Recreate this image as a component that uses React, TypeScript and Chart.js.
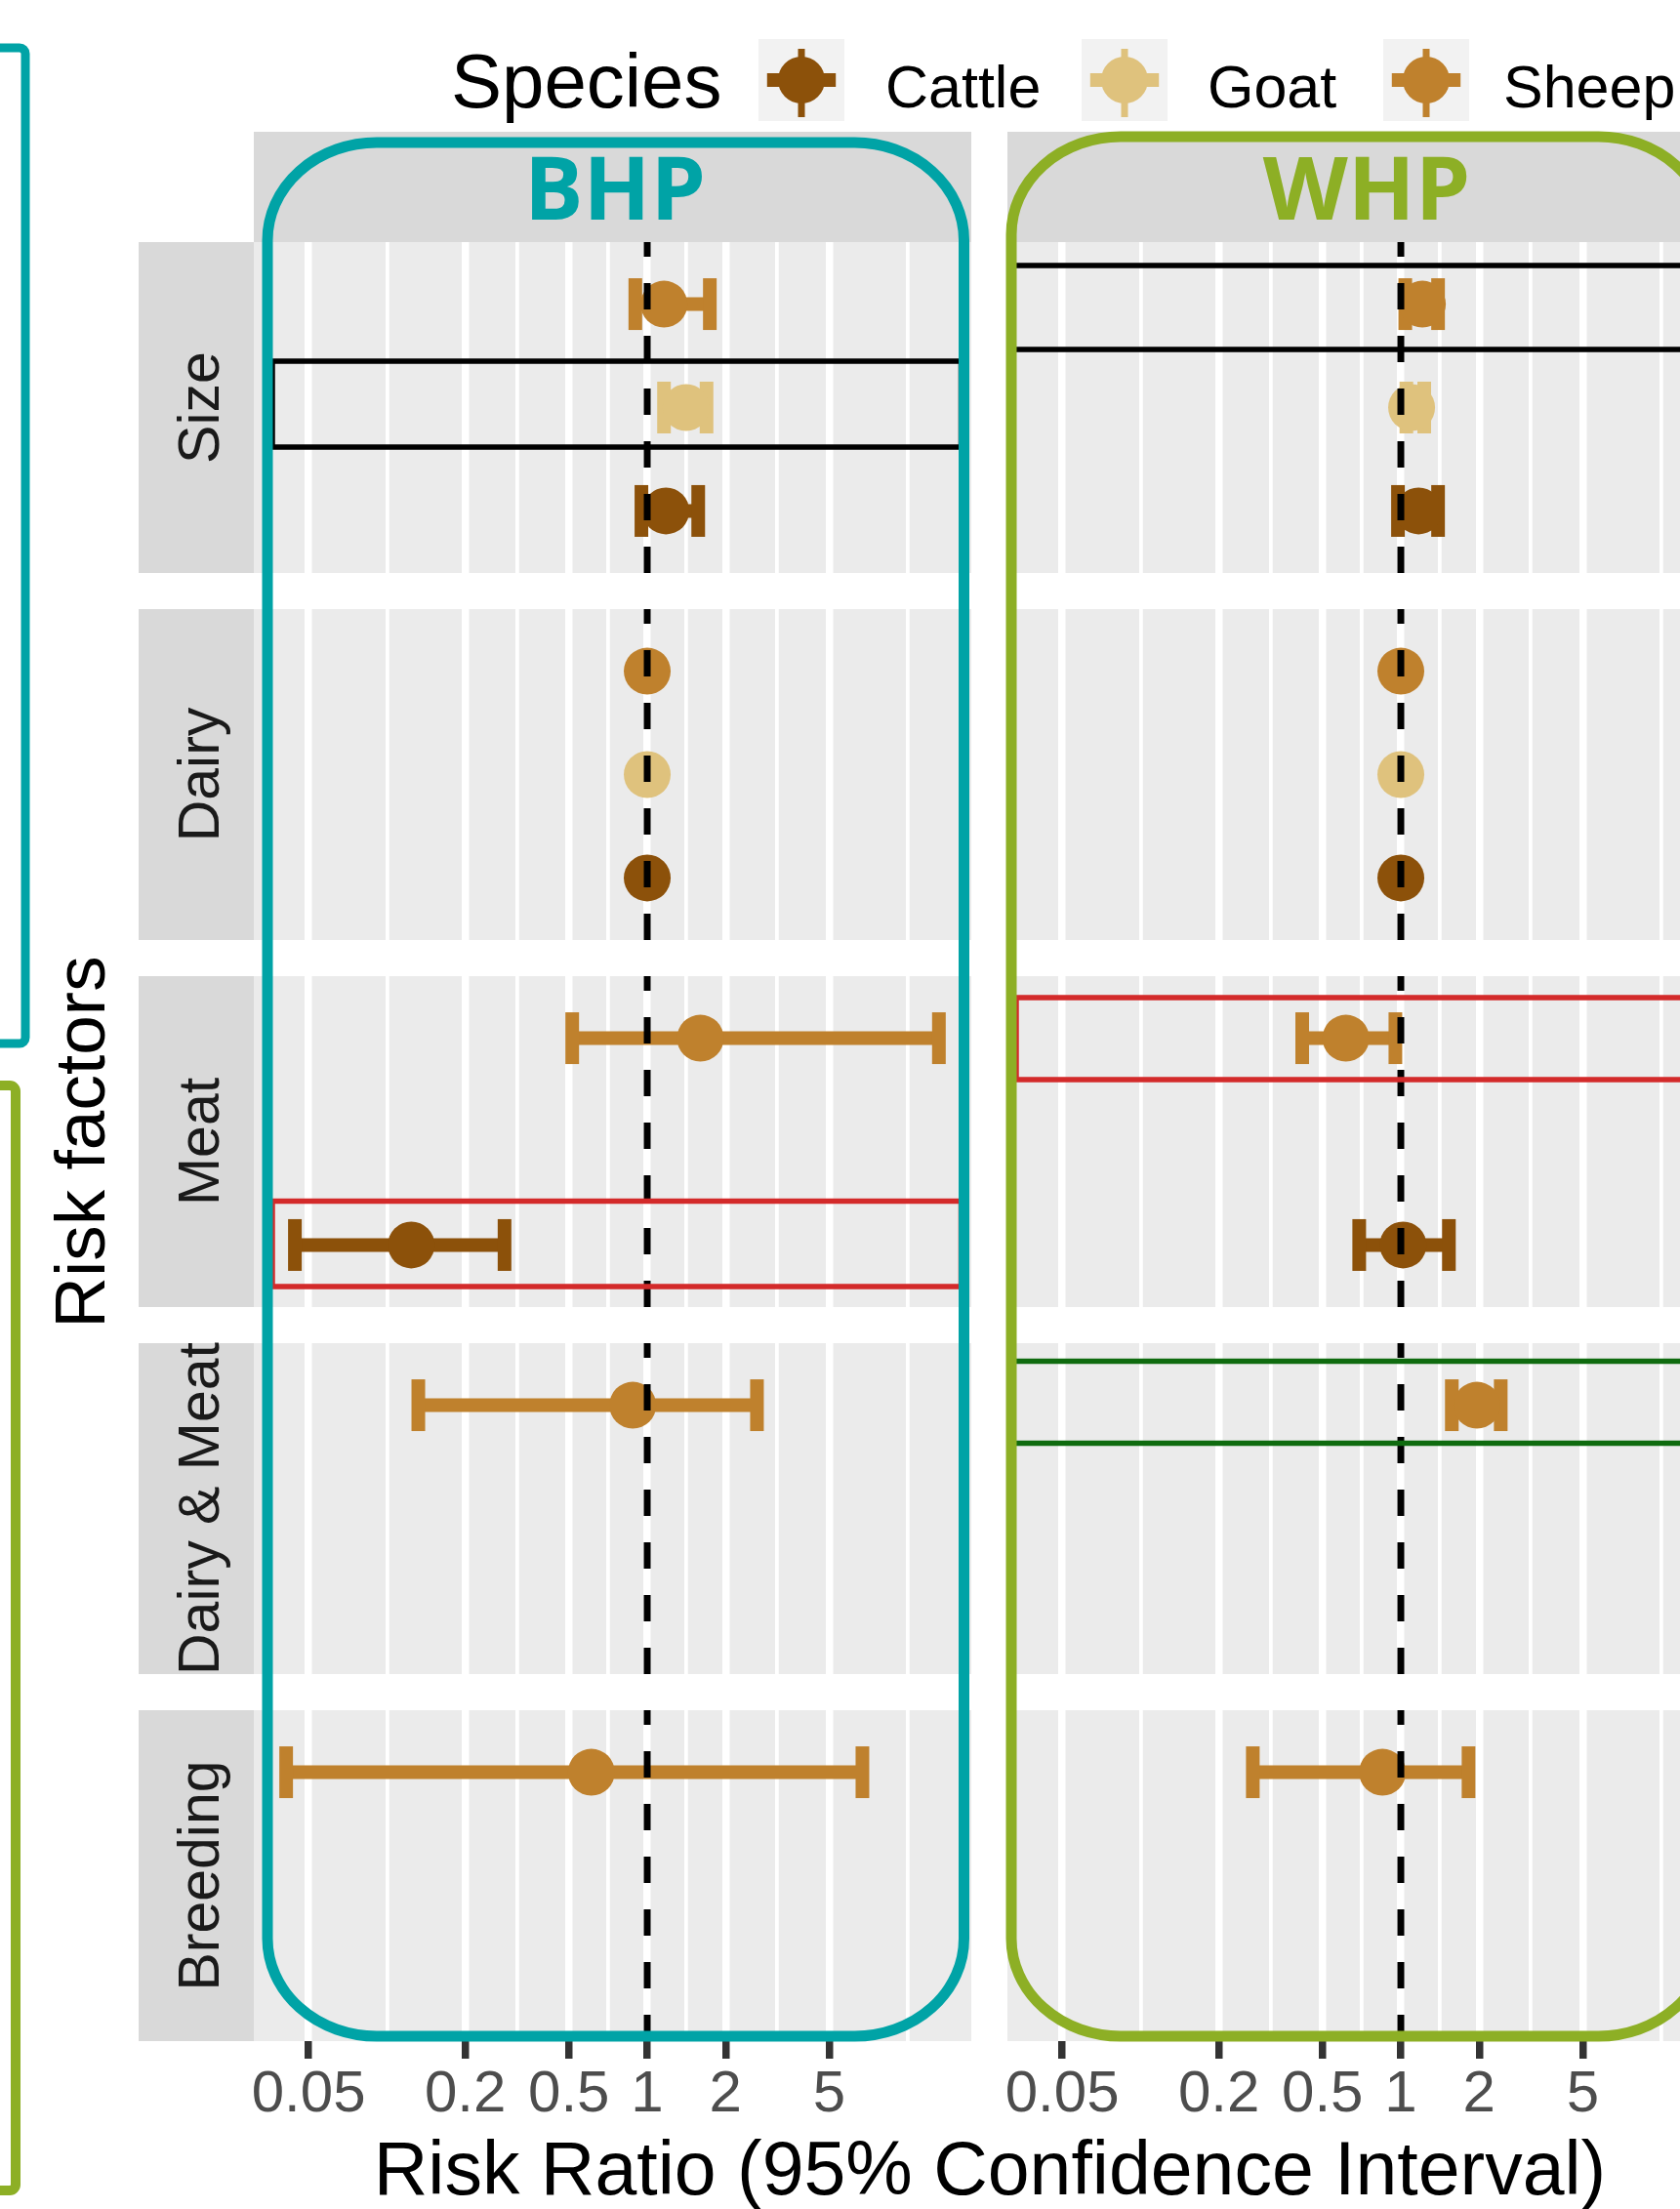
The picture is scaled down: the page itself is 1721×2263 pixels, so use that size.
import React, { useEffect, useRef } from 'react';
import { Chart, registerables } from 'chart.js';

Chart.register(...registerables);

// ---------------- data ----------------
const species = ['Cattle', 'Goat', 'Sheep'];
const speciesColors = ['#8C510A', '#DFC27D', '#BF812D'];
const riskFactors = ['Size', 'Dairy', 'Meat', 'Dairy & Meat', 'Breeding'];
const panels = ['BHP', 'WHP'];

const rowFactor = ['Size', 'Size', 'Size', 'Dairy', 'Dairy', 'Dairy', 'Meat', 'Meat', 'Dairy & Meat', 'Breeding'];
const rowSpecies = ['Sheep', 'Goat', 'Cattle', 'Sheep', 'Goat', 'Cattle', 'Sheep', 'Cattle', 'Sheep', 'Sheep'];

const bhpRR = [1.16, 1.41, 1.18, 1, 1, 1, 1.6, 0.124, 0.88, 0.61];
const bhpLow = [0.9, 1.16, 0.95, null, null, null, 0.515, 0.0443, 0.132, 0.041];
const bhpHigh = [1.74, 1.69, 1.57, null, null, null, 13.2, 0.283, 2.64, 6.71];

const whpRR = [1.21, 1.1, 1.17, 1, 1, 1, 0.615, 1.02, 1.96, 0.85];
const whpLow = [1.04, 1.05, 0.975, null, null, null, 0.418, 0.692, 1.57, 0.27];
const whpHigh = [1.39, 1.23, 1.39, null, null, null, 0.953, 1.53, 2.42, 1.82];

const tickValues = [0.05, 0.2, 0.5, 1, 2, 5];
const tickLabels = ['0.05', '0.2', '0.5', '1', '2', '5'];
const refValue = 1;
const xMin = 0.0308;
const xMax = 17.58;
const yMin = -0.6;
const yMax = 2.6;

// minor breaks: geometric midpoints between the breaks (ggplot rule)
const logT = tickValues.map((v) => Math.log10(v));
const stepT = logT[1] - logT[0];
const extT = [logT[0] - stepT, ...logT, logT[logT.length - 1] + stepT];
const minorValues = extT
  .slice(1)
  .map((v, i) => Math.pow(10, (v + extT[i]) / 2))
  .filter((v) => v > xMin && v < xMax);
const gridValues = [...minorValues, ...tickValues];

const panelRR = [bhpRR, whpRR];
const panelLow = [bhpLow, whpLow];
const panelHigh = [bhpHigh, whpHigh];

// ---------------- layout ----------------
const FONT = "'Liberation Sans', Arial, Helvetica, sans-serif";
const TEAL = '#00A3A6';
const OLIVE = '#8DAF25';
const PANEL_LEFT = [260, 1032];
const PANEL_W = 735;
const FACET_TOP0 = 248;
const FACET_STEP = 376;
const FACET_H = 339;
const PADX = 60;
const AXIS_H = 110;
const facetTops = riskFactors.map((_, k) => FACET_TOP0 + k * FACET_STEP);

const isMajor = (v: number) => tickValues.some((t) => Math.abs(t - v) < 1e-9);

const bgPlugin = {
  id: 'panelBg',
  beforeDraw(chart: any) {
    const { ctx, chartArea: a } = chart;
    ctx.save();
    ctx.fillStyle = '#EBEBEB';
    ctx.fillRect(a.left, a.top, a.right - a.left, a.bottom - a.top);
    ctx.restore();
  },
};

function Facet({ panel, factorIndex }: { panel: number; factorIndex: number }) {
  const ref = useRef<HTMLCanvasElement>(null);
  const isBottom = factorIndex === riskFactors.length - 1;

  useEffect(() => {
    const rr = panelRR[panel];
    const lo = panelLow[panel];
    const hi = panelHigh[panel];
    const factor = riskFactors[factorIndex];
    const idx = rowFactor.map((f, i) => (f === factor ? i : -1)).filter((i) => i >= 0);

    const datasets: any[] = [];
    datasets.push({
      label: 'ref',
      data: [
        { x: refValue, y: yMin },
        { x: refValue, y: yMax },
      ],
      showLine: true,
      borderColor: '#000000',
      borderWidth: 7,
      borderDash: [27, 27],
      pointRadius: 0,
      order: 0,
    });
    datasets.push({
      label: 'rr',
      data: idx.map((i) => ({ x: rr[i], y: species.indexOf(rowSpecies[i]) })),
      pointRadius: 24,
      pointBorderWidth: 0,
      pointBackgroundColor: idx.map((i) => speciesColors[species.indexOf(rowSpecies[i])]),
      order: 1,
    });
    idx.forEach((i) => {
      if (lo[i] == null || hi[i] == null) return;
      const s = species.indexOf(rowSpecies[i]);
      const c = speciesColors[s];
      datasets.push({
        label: 'ci',
        data: [
          { x: lo[i], y: s },
          { x: hi[i], y: s },
        ],
        showLine: true,
        borderColor: c,
        borderWidth: 14,
        pointStyle: 'line',
        pointRotation: 90,
        pointRadius: 26.5,
        pointBorderWidth: 14,
        pointBorderColor: c,
        pointBackgroundColor: c,
        order: 2,
      });
    });

    const chart = new Chart(ref.current as HTMLCanvasElement, {
      type: 'scatter',
      data: { datasets },
      options: {
        animation: false,
        responsive: false,
        events: [],
        layout: { autoPadding: false, padding: { left: PADX, right: PADX, top: 0, bottom: 0 } },
        plugins: { legend: { display: false }, tooltip: { enabled: false } },
        scales: {
          x: {
            type: 'logarithmic',
            min: xMin,
            max: xMax,
            bounds: 'data',
            border: { display: false },
            afterBuildTicks: (scale: any) => {
              scale.ticks = gridValues.map((v) => ({ value: v }));
            },
            afterFit: (scale: any) => {
              scale.height = isBottom ? AXIS_H : 0;
            },
            grid: {
              color: '#FFFFFF',
              lineWidth: (ctx: any) => (ctx.tick && isMajor(ctx.tick.value) ? 7.5 : 3.75),
              drawTicks: isBottom,
              tickLength: 18,
              tickWidth: 7.5,
              tickColor: (ctx: any) => (ctx.tick && isMajor(ctx.tick.value) ? '#333333' : 'rgba(0,0,0,0)'),
            },
            ticks: {
              display: isBottom,
              autoSkip: false,
              maxRotation: 0,
              minRotation: 0,
              padding: 1,
              color: '#4D4D4D',
              font: { family: FONT, size: 60 },
              callback: (v: any) => {
                const k = tickValues.findIndex((t) => Math.abs(t - Number(v)) < 1e-9);
                return k >= 0 ? tickLabels[k] : '';
              },
            },
          },
          y: { type: 'linear', min: yMin, max: yMax, display: false },
        },
      } as any,
      plugins: [bgPlugin],
    });
    return () => chart.destroy();
  }, [panel, factorIndex, isBottom]);

  return (
    <canvas
      ref={ref}
      width={PANEL_W + 2 * PADX}
      height={FACET_H + (isBottom ? AXIS_H : 0)}
      style={{ position: 'absolute', left: PANEL_LEFT[panel] - PADX, top: facetTops[factorIndex] }}
    />
  );
}

function LegendKey({ x, color }: { x: number; color: string }) {
  const w = 88;
  const h = 84;
  const y = 40;
  return (
    <g>
      <rect x={x} y={y} width={w} height={h} fill="#F2F2F2" />
      <line x1={x + w / 2} y1={y + 10} x2={x + w / 2} y2={y + h - 4} stroke={color} strokeWidth={7} />
      <line x1={x + w * 0.1} y1={y + h / 2} x2={x + w * 0.9} y2={y + h / 2} stroke={color} strokeWidth={14} />
      <circle cx={x + w / 2} cy={y + h / 2} r={24} fill={color} />
    </g>
  );
}

export default function App() {
  const legendKeyX = [777, 1108, 1417];
  const legendTextX = [907, 1237, 1540];
  return (
    <div
      style={{
        position: 'absolute',
        left: 0,
        top: 0,
        width: 1721,
        height: 2263,
        overflow: 'hidden',
        background: '#FFFFFF',
      }}
    >
      {panels.map((_, p) =>
        riskFactors.map((_, f) => <Facet key={`${p}-${f}`} panel={p} factorIndex={f} />)
      )}
      <svg
        width={1721}
        height={2263}
        style={{ position: 'absolute', left: 0, top: 0, pointerEvents: 'none' }}
      >
        {/* column strips */}
        {panels.map((name, p) => (
          <rect key={name} x={PANEL_LEFT[p]} y={135} width={PANEL_W} height={113} fill="#D9D9D9" />
        ))}
        {/* row strips */}
        {riskFactors.map((name, k) => (
          <g key={name}>
            <rect x={142} y={facetTops[k]} width={118} height={FACET_H} fill="#D9D9D9" />
            <text
              transform={`translate(224, ${facetTops[k] + FACET_H / 2}) rotate(-90)`}
              textAnchor="middle"
              fontFamily={FONT}
              fontSize={59}
              fill="#1A1A1A"
            >
              {name}
            </text>
          </g>
        ))}
        {/* column titles */}
        <text x={630} y={225} textAnchor="middle" fontFamily="'Open Sans', sans-serif" fontWeight={700} fontSize={90} fill={TEAL}>
          {panels[0]}
        </text>
        <text x={1400} y={225} textAnchor="middle" fontFamily="'Open Sans', sans-serif" fontWeight={700} fontSize={90} fill={OLIVE}>
          {panels[1]}
        </text>
        {/* axis titles */}
        <text x={1014} y={2248} textAnchor="middle" fontFamily={FONT} fontSize={77} fill="#000">
          Risk Ratio (95% Confidence Interval)
        </text>
        <text transform="translate(107, 1170) rotate(-90)" textAnchor="middle" fontFamily={FONT} fontSize={73} fill="#000">
          Risk factors
        </text>
        {/* legend */}
        <text x={462} y={110} fontFamily={FONT} fontSize={78} fill="#000">
          Species
        </text>
        {species.map((s, i) => (
          <g key={s}>
            <LegendKey x={legendKeyX[i]} color={speciesColors[i]} />
            <text x={legendTextX[i]} y={110} fontFamily={FONT} fontSize={61} fill="#000">
              {s}
            </text>
          </g>
        ))}
        {/* highlight boxes */}
        <rect x={279} y={370} width={705.5} height={88} fill="none" stroke="#000" strokeWidth={5.5} />
        <rect x={279} y={1230.5} width={705.5} height={87.5} fill="none" stroke="#D32A2A" strokeWidth={5.5} />
        <rect x={1037.5} y={272} width={760} height={86} fill="none" stroke="#000" strokeWidth={5.5} />
        <rect x={1041} y={1022} width={760} height={84} fill="none" stroke="#D32A2A" strokeWidth={5.5} />
        <rect x={1037.5} y={1394.5} width={760} height={84} fill="none" stroke="#0F6B0F" strokeWidth={5.5} />
        {/* panel outlines */}
        <rect x={274} y={146} width={713.5} height={1940} rx={112} ry={100} fill="none" stroke={TEAL} strokeWidth={11} />
        <rect x={1036} y={140} width={713.5} height={1946} rx={112} ry={100} fill="none" stroke={OLIVE} strokeWidth={11} />
        {/* left group brackets */}
        <rect x={-100} y={49} width={126} height={1020} rx={6} fill="none" stroke={TEAL} strokeWidth={9} />
        <rect x={-100} y={1112} width={116} height={1132} rx={6} fill="none" stroke={OLIVE} strokeWidth={10} />
      </svg>
    </div>
  );
}
